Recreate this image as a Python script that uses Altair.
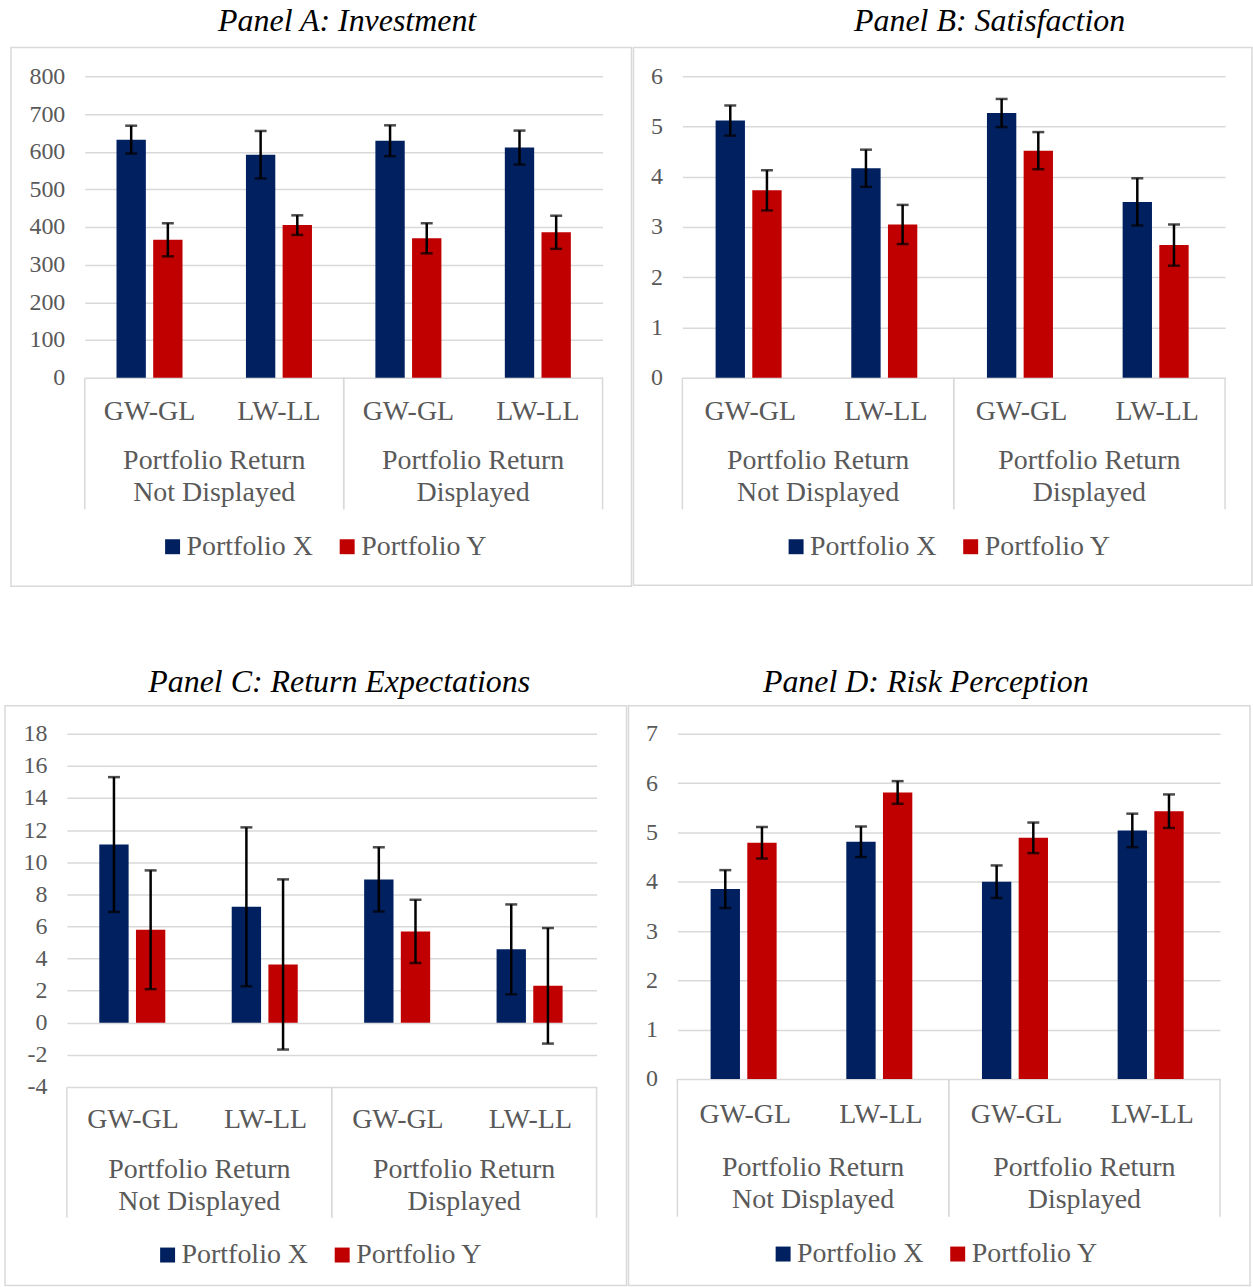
import altair as alt
import pandas as pd

FONT = "Liberation Serif"
GRAY = "#595959"
GRID = "#D9D9D9"

cats = ["ND|GW-GL", "ND|LW-LL", "D|GW-GL", "D|LW-LL"]
cat_labels = ["GW-GL", "LW-LL", "GW-GL", "LW-LL"]
groups = ["ND", "D"]
group_labels = ["Portfolio Return\nNot Displayed", "Portfolio Return\nDisplayed"]
series = ["Portfolio X", "Portfolio Y"]
colors = ["#002060", "#C00000"]

# Panel A: Investment
inv_x = [632, 592, 629, 611]
inv_x_err = [37, 63, 41, 45]
inv_y = [366, 405, 370, 386]
inv_y_err = [44, 26, 40, 44]
# Panel B: Satisfaction
sat_x = [5.12, 4.17, 5.27, 3.50]
sat_x_err = [0.30, 0.37, 0.28, 0.47]
sat_y = [3.73, 3.05, 4.52, 2.64]
sat_y_err = [0.40, 0.39, 0.37, 0.41]
# Panel C: Return Expectations
ret_x = [11.1, 7.22, 8.93, 4.57]
ret_x_err = [4.2, 4.95, 2.0, 2.8]
ret_y = [5.79, 3.63, 5.69, 2.30]
ret_y_err = [3.7, 5.3, 1.97, 3.6]
# Panel D: Risk Perception
risk_x = [3.85, 4.81, 4.00, 5.04]
risk_x_err = [0.385, 0.31, 0.33, 0.34]
risk_y = [4.79, 5.81, 4.89, 5.43]
risk_y_err = [0.32, 0.23, 0.31, 0.34]


def panel(title, xv, xe, yv, ye, domain, ticks, w, h, geo):
    rows = []
    for i, c in enumerate(cats):
        rows.append(dict(cat=c, portfolio=series[0], value=xv[i], lo=xv[i] - xe[i], hi=xv[i] + xe[i]))
        rows.append(dict(cat=c, portfolio=series[1], value=yv[i], lo=yv[i] - ye[i], hi=yv[i] + ye[i]))
    df = pd.DataFrame(rows)
    cdf = pd.DataFrame({"cat": cats, "sub": cat_labels})
    gdf = pd.DataFrame({"group": groups, "label": group_labels})
    tdf = pd.DataFrame({"t": [title]})

    xscale = alt.Scale(paddingInner=0.49, paddingOuter=0.245)
    xenc = alt.X("cat:N", sort=cats, axis=None, scale=xscale)
    xoff = alt.XOffset("portfolio:N", sort=series, scale=alt.Scale(paddingInner=0.2, paddingOuter=0))
    yscale = alt.Scale(domain=domain, nice=False)
    yaxis = alt.Axis(values=ticks, title=None, grid=True, gridColor=GRID, gridWidth=1.5,
                     domain=False, ticks=False, labelFont=FONT, labelFontSize=24,
                     labelColor=GRAY, labelPadding=20, labelExpr="'' + datum.value")

    frame = alt.Chart(tdf).mark_rect(fillOpacity=0, stroke=GRID, strokeWidth=1.5).encode(
        x=alt.value(geo["rx1"]), x2=alt.value(w + geo["rx2"]),
        y=alt.value(geo["ry1"]), y2=alt.value(geo["ry2"]))
    ttl = alt.Chart(tdf).mark_text(font=FONT, fontSize=32, fontStyle="italic", color="black",
                                   baseline="middle").encode(
        x=alt.value(geo["tx"]), y=alt.value(geo["ty"]), text="t:N")

    bars = alt.Chart(df).mark_bar().encode(
        x=xenc, xOffset=xoff,
        y=alt.Y("value:Q", scale=yscale, axis=yaxis), y2=alt.datum(0),
        color=alt.Color("portfolio:N", sort=series,
                        scale=alt.Scale(domain=series, range=colors),
                        legend=alt.Legend(orient="none", legendX=geo["lx"] - 7, legendY=geo["ly"],
                                          direction="horizontal", title=None, symbolType="square",
                                          symbolSize=225, symbolStrokeWidth=0, labelFont=FONT,
                                          labelFontSize=28, labelColor=GRAY, labelOffset=0,
                                          columnPadding=20, padding=0)))
    rules = alt.Chart(df).mark_rule(color="black", strokeWidth=2.5).encode(
        x=xenc, xOffset=xoff, y=alt.Y("lo:Q", scale=yscale, axis=yaxis), y2="hi:Q")
    cap_lo = alt.Chart(df).mark_tick(color="black", thickness=2.5, size=12).encode(
        x=xenc, xOffset=xoff, y=alt.Y("lo:Q", scale=yscale, axis=yaxis))
    cap_hi = alt.Chart(df).mark_tick(color="black", thickness=2.5, size=12).encode(
        x=xenc, xOffset=xoff, y=alt.Y("hi:Q", scale=yscale, axis=yaxis))
    lvl1 = alt.Chart(cdf).mark_text(font=FONT, fontSize=28, color=GRAY, baseline="middle").encode(
        x=xenc, y=alt.value(h + geo["l1"]), text="sub:N")

    main = alt.layer(frame, ttl, bars, rules, cap_lo, cap_hi, lvl1)

    gx = dict(sort=groups, axis=None, scale=alt.Scale(paddingInner=0, paddingOuter=0))
    gtext = alt.Chart(gdf).mark_text(font=FONT, fontSize=28, color=GRAY, lineBreak="\n",
                                     lineHeight=32, baseline="middle").encode(
        x=alt.X("group:N", **gx), y=alt.value(h + geo["l2"]), text="label:N")
    sep0 = alt.Chart(gdf).mark_rule(color=GRID, strokeWidth=1.5).encode(
        x=alt.X("group:N", bandPosition=0, **gx), y=alt.value(h), y2=alt.value(h + geo["sep"]))
    sep1 = alt.Chart(gdf).mark_rule(color=GRID, strokeWidth=1.5).encode(
        x=alt.X("group:N", bandPosition=1, **gx), y=alt.value(h), y2=alt.value(h + geo["sep"]))
    grp = alt.layer(gtext, sep0, sep1)

    return alt.layer(main, grp).resolve_scale(x="independent").properties(width=w, height=h)


def spacer(wd):
    return alt.Chart(pd.DataFrame({"a": [0]})).mark_rect(opacity=0).encode(
        x=alt.value(0), x2=alt.value(wd), y=alt.value(0), y2=alt.value(1)
    ).properties(width=wd, height=1)


pA = panel("Panel A: Investment", inv_x, inv_x_err, inv_y, inv_y_err, [0, 800],
           list(range(0, 801, 100)), 519, 302,
           dict(rx1=-74, rx2=29, ry1=-29, ry2=511, tx=263, ty=-55, lx=81, ly=457.5,
                l1=34, l2=84, sep=132))
pB = panel("Panel B: Satisfaction", sat_x, sat_x_err, sat_y, sat_y_err, [0, 6],
           list(range(0, 7)), 544, 302,
           dict(rx1=-49, rx2=27, ry1=-29, ry2=510, tx=308, ty=-55, lx=107, ly=457.5,
                l1=34, l2=84, sep=132))
pC = panel("Panel C: Return Expectations", ret_x, ret_x_err, ret_y, ret_y_err, [-4, 18],
           list(range(-4, 19, 2)), 531, 354,
           dict(rx1=-62, rx2=30, ry1=-28, ry2=553, tx=273, ty=-52, lx=94, ly=508.5,
                l1=33, l2=83, sep=131))
pD = panel("Panel D: Risk Perception", risk_x, risk_x_err, risk_y, risk_y_err, [0, 7],
           list(range(0, 8)), 544, 346,
           dict(rx1=-49, rx2=30, ry1=-28, ry2=553, tx=249, ty=-52, lx=99, ly=507.5,
                l1=36, l2=89, sep=138))

row1 = alt.hconcat(spacer(7), pA, pB, spacing=0).resolve_scale(
    color="independent").resolve_legend(color="independent")
row2 = alt.hconcat(spacer(1), pC, pD, spacing=0).resolve_scale(
    color="independent").resolve_legend(color="independent")

chart = alt.vconcat(row1, row2, spacing=79).resolve_scale(color="independent").resolve_legend(
    color="independent").properties(
    padding={"left": 3, "top": 4, "right": 0, "bottom": 0}
).configure(font=FONT).configure_axis(labelFont=FONT).configure_view(stroke=None)

chart.save("out.html", embed_options={"renderer": "svg", "actions": False})
